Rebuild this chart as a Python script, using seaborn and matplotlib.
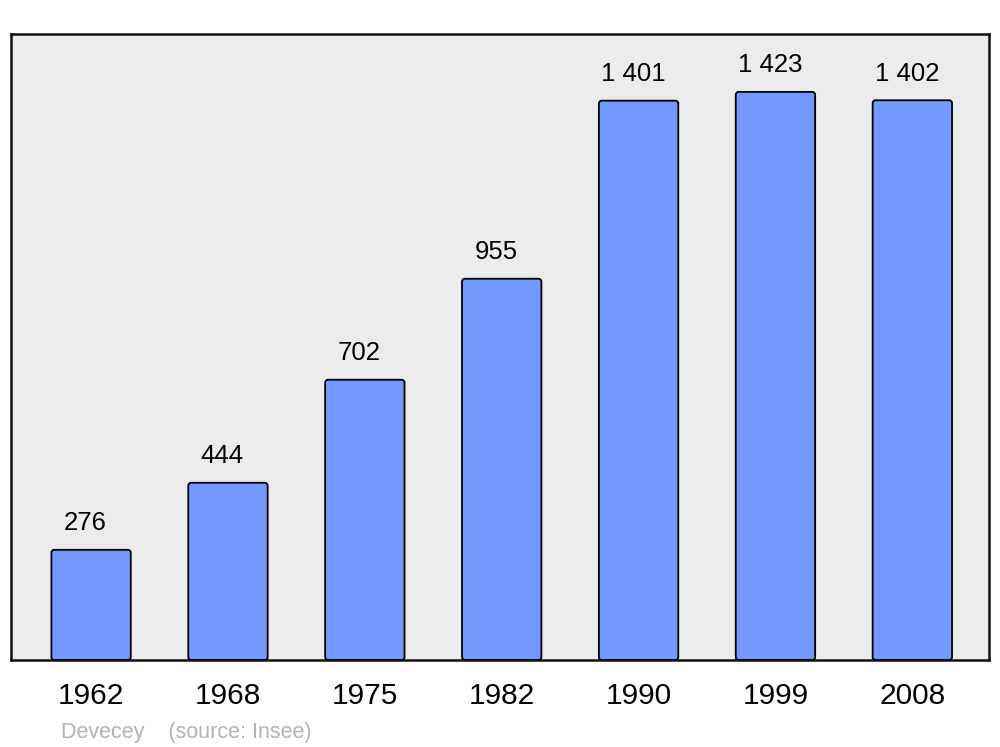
import matplotlib
matplotlib.use("Agg")
import matplotlib.pyplot as plt
import seaborn as sns
import pandas as pd
from matplotlib.patches import FancyBboxPatch

years = ["1962", "1968", "1975", "1982", "1990", "1999", "2008"]
population = [276, 444, 702, 955, 1401, 1423, 1402]
labels = ["276", "444", "702", "955", "1 401", "1 423", "1 402"]

df = pd.DataFrame({"annee": years, "pop": population})

sns.set_theme(style="white")
plt.rcParams["font.family"] = ["Liberation Sans", "DejaVu Sans"]

fig = plt.figure(figsize=(10, 7.47), dpi=100)
ax = fig.add_axes([0.011, 87 / 747, 0.978, 626 / 747])
ax.set_facecolor("#ececec")

sns.barplot(data=df, x="annee", y="pop", color="#7399ff", saturation=1,
            width=0.58, ax=ax)

ax.set_xlim(-0.585, 6.56)
ax.set_ylim(0, 1568)

# rounded bars: replace the plain rectangles
px_x = 978 / (6.56 + 0.585)
px_y = 626 / 1568
for p in list(ax.patches):
    x, y = p.get_x(), p.get_y()
    w, h = p.get_width(), p.get_height()
    p.set_visible(False)
    ax.add_patch(FancyBboxPatch((x, y), w, h,
                                boxstyle="round,pad=0,rounding_size=%f" % (3 / px_x),
                                mutation_aspect=px_x / px_y,
                                facecolor="#7399ff", edgecolor="black",
                                linewidth=1.3, zorder=3))

for i, (v, t) in enumerate(zip(population, labels)):
    ax.annotate(t, (i, v), xytext=(-4, 14), textcoords="offset points",
                ha="center", va="baseline", fontsize=18.5, color="black")

ax.set_yticks([])
ax.tick_params(axis="x", length=0, pad=16, labelsize=21.5, labelcolor="black")
ax.set_xlabel("")
ax.set_ylabel("")
for s in ax.spines.values():
    s.set_visible(True)
    s.set_color("#111111")
    s.set_linewidth(1.8)

fig.text(61 / 1000, 9 / 747, "Devecey    (source: Insee)", fontsize=15.5,
         color="#b3b3b3", va="baseline")

fig.savefig("out.png", dpi=100, facecolor="white")
